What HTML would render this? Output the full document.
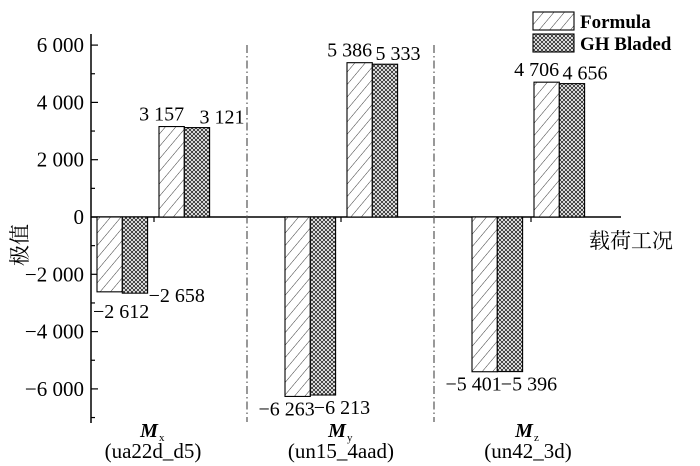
<!DOCTYPE html>
<html><head><meta charset="utf-8"><style>
body{margin:0;background:#fff;}
svg{display:block;font-family:"Liberation Serif","Noto Serif CJK SC",serif;}
</style></head><body>
<svg width="700" height="466" viewBox="0 0 700 466">
<defs>
<pattern id="hatch" patternUnits="userSpaceOnUse" width="8" height="8" patternTransform="rotate(40)">
<rect width="8" height="8" fill="#fff"/><line x1="0" y1="0" x2="0" y2="8" stroke="#222" stroke-width="0.9"/>
</pattern>
<pattern id="cross" patternUnits="userSpaceOnUse" width="4" height="4">
<rect width="4" height="4" fill="#fff"/><path d="M0,0L4,4M4,0L0,4" stroke="#222" stroke-width="0.8"/>
</pattern>
</defs>
<g id="chart"></g>
</svg>
<script>
const groups = ["Mx","My","Mz"];
const groupSub = ["x","y","z"];
const groupCase = ["(ua22d_d5)","(un15_4aad)","(un42_3d)"];
const formulaNeg = [-2612,-6263,-5401];
const bladedNeg = [-2658,-6213,-5396];
const formulaPos = [3157,5386,4706];
const bladedPos = [3121,5333,4656];
const yTicks = [6000,4000,2000,0,-2000,-4000,-6000];
const yTickLabels = ["6 000","4 000","2 000","0","\u22122 000","\u22124 000","\u22126 000"];
function fmt(v){const s=Math.abs(v).toString();const t=s.length>3?s.slice(0,s.length-3)+" "+s.slice(-3):s;return (v<0?"\u2212":"")+t;}

const NS="http://www.w3.org/2000/svg";
const g=document.getElementById('chart');
function el(tag,attrs,text){const e=document.createElementNS(NS,tag);for(const k in attrs)e.setAttribute(k,attrs[k]);if(text!=null)e.textContent=text;g.appendChild(e);return e;}
const y0=217, pxPer=57.3/2000;
function Y(v){return y0-v*pxPer;}
const groupX0=[97,285,472];
const posOff=62, bw=25.3, FS=20;

let a=el('line',{x1:91,y1:34,x2:91,y2:423,stroke:'#000','stroke-width':1.5});


for(let v=7000;v>=-7000;v-=1000){
  if(Y(v)<33||Y(v)>424)continue;
  const major=v%2000===0;
  el('line',{x1:91,y1:Y(v),x2:major?98:95,y2:Y(v),stroke:'#000','stroke-width':1.2});
}
yTicks.forEach((v,i)=>{
  const t=el('text',{x:84,y:Y(v)+7,'text-anchor':'end','font-size':21},yTickLabels[i]);
  
  
});
let yt=el('text',{x:0,y:0,'font-size':21,'text-anchor':'middle',transform:'translate(27,245) rotate(-90)'},'极值');


let xa=el('line',{x1:91,y1:y0,x2:621,y2:y0,stroke:'#000','stroke-width':1.5});


[154,341,531].forEach(x=>el('line',{x1:x,y1:y0,x2:x,y2:y0+5,stroke:'#000','stroke-width':1.2}));
let xt=el('text',{x:589,y:248,'font-size':21},'载荷工况');


[247,434].forEach(x=>{
  const s=el('line',{x1:x,y1:45,x2:x,y2:422,stroke:'#555','stroke-width':1.2,'stroke-dasharray':'8 3 1.5 3'});
  
  
});
function bar(x,v,fill,name){
  const y=Math.min(Y(v),y0),h=Math.abs(Y(v)-y0);
  const r=el('rect',{x:x,y:y,width:bw,height:h,fill:fill,stroke:'#000','stroke-width':1.1});
  
  
}
function lbl(x,y,txt,anchor){const t=el('text',{x:x,y:y,'font-size':FS,'text-anchor':anchor||'middle'},txt);
  
  }
groups.forEach((gname,i)=>{
  const x=groupX0[i];
  bar(x,formulaNeg[i],'url(#hatch)','bar-formula-neg-'+gname);
  bar(x+bw,bladedNeg[i],'url(#cross)','bar-bladed-neg-'+gname);
  bar(x+posOff,formulaPos[i],'url(#hatch)','bar-formula-pos-'+gname);
  bar(x+posOff+bw,bladedPos[i],'url(#cross)','bar-bladed-pos-'+gname);
  const fc=x+posOff+bw/2, bc=x+posOff+bw*1.5;
  lbl(fc-10,Y(formulaPos[i])-6,fmt(formulaPos[i]));
  lbl(bc+(i===0?25:13),Y(bladedPos[i])-4,fmt(bladedPos[i]));
  if(i===0){
    lbl(x-4,Y(formulaNeg[i])+26,fmt(formulaNeg[i]),'start');
    lbl(x+2*bw+1,Y(bladedNeg[i])+9,fmt(bladedNeg[i]),'start');
  }else{
    lbl(x+bw/2-11,Y(formulaNeg[i])+19,fmt(formulaNeg[i]));
    lbl(x+bw*1.5+19,Y(bladedNeg[i])+19,fmt(bladedNeg[i]));
  }
  const cx=x+56;
  const t=el('text',{x:cx-4,y:437,'font-size':20,'text-anchor':'middle','font-weight':'bold','font-style':'italic'},'M');
  
  
  el('text',{x:cx+6,y:441,'font-size':11},groupSub[i]);
  const c=el('text',{x:cx,y:458,'font-size':21,'text-anchor':'middle'},groupCase[i]);
  
  
});
const lg=[['url(#hatch)','Formula',12],['url(#cross)','GH Bladed',34]];
lg.forEach(([f,n,y])=>{
  const r=el('rect',{x:533,y:y,width:41,height:18,fill:f,stroke:'#000','stroke-width':1.1});
  
  
  const t=el('text',{x:580,y:y+16,'font-size':19,'font-weight':'bold'},n);
  
  
});
</script>
</body></html>
